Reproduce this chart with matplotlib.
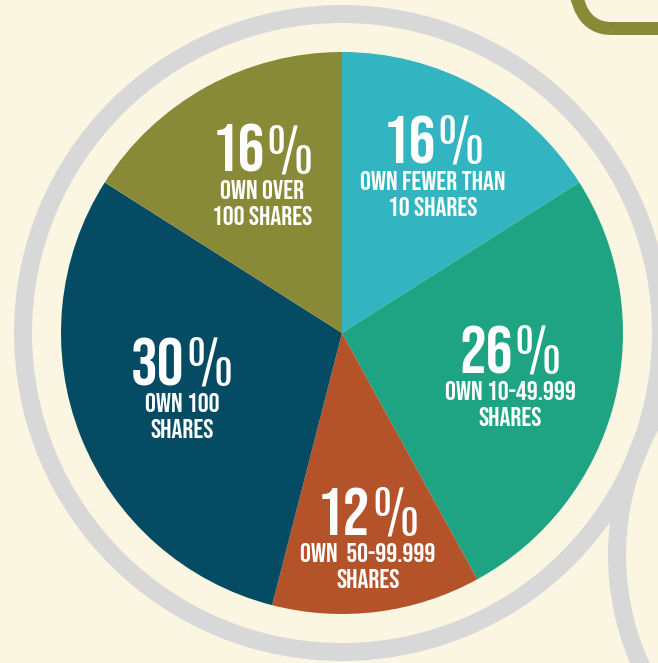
import matplotlib
matplotlib.use("Agg")
import matplotlib.pyplot as plt
from matplotlib.patches import Wedge, FancyBboxPatch

W, H = 658, 663
FONT = ["Bebas Neue", "Oswald", "DejaVu Sans"]
PCT_FONT = ["Pathway Gothic One", "Bebas Neue", "DejaVu Sans"]

# data
shares = [16, 26, 12, 30, 16]
line1 = ["OWN FEWER THAN", "OWN 10-49.999", "OWN  50-99.999", "OWN 100", "OWN OVER"]
line2 = ["10 SHARES", "SHARES", "SHARES", "SHARES", "100 SHARES"]
colors = ["#33b4c1", "#1fa483", "#b4522a", "#044b63", "#898a38"]

# layout, pixel coords from the top left (x center, baseline of the big number)
label_xy = [(433, 163), (510, 373), (368, 535), (182, 385), (262, 172)]
PIE_C = (342, 333)
PIE_R = 281
BG = "#faf6e2"
GREY = "#d8d8d8"
OLIVE = "#898a38"


def py(y):
    # image y -> data y
    return H - y


fig = plt.figure(figsize=(W / 100, H / 100), dpi=100, facecolor=BG)
ax = fig.add_axes([0, 0, 1, 1])
ax.set_facecolor(BG)

ax.pie(shares, colors=colors, startangle=90, counterclock=False,
       center=(PIE_C[0], py(PIE_C[1])), radius=PIE_R,
       wedgeprops=dict(linewidth=0))

# grey rings
ax.add_patch(Wedge((PIE_C[0], py(PIE_C[1])), 328, 0, 360, width=18,
                   color=GREY, linewidth=0, zorder=0))
ax.add_patch(Wedge((884, py(555)), 276, 0, 360, width=18,
                   color=GREY, linewidth=0, zorder=0))

# olive box in the corner
ax.add_patch(FancyBboxPatch((573.5, py(28.5)), 200, 100,
                            boxstyle="round,pad=0,rounding_size=38",
                            facecolor="none", edgecolor=OLIVE,
                            linewidth=13 * 0.72, zorder=1))

ax.set_xlim(0, W)
ax.set_ylim(0, H)
ax.set_aspect("auto")
ax.axis("off")

nums = []
for i in range(len(shares)):
    x, b = label_xy[i]
    t1 = ax.text(x, py(b), str(shares[i]), color="white", fontsize=48,
                 family=FONT, ha="right", va="baseline")
    t2 = ax.text(x, py(b), "%", color="white", fontsize=48,
                 family=PCT_FONT, ha="left", va="baseline")
    nums.append((t1, t2, x))
    ax.text(x, py(b + 27), line1[i], color="white", fontsize=19.5,
            family=FONT, ha="center", va="baseline")
    ax.text(x, py(b + 53), line2[i], color="white", fontsize=19.5,
            family=FONT, ha="center", va="baseline")

# center the number + % pair
fig.canvas.draw()
r = fig.canvas.get_renderer()
for t1, t2, x in nums:
    w1 = t1.get_window_extent(r).width
    w2 = t2.get_window_extent(r).width
    left = x - (w1 + w2 + 2) / 2
    t1.set_x(left + w1)
    t2.set_x(left + w1 + 2)

fig.savefig("out.png", dpi=100, facecolor=BG)
